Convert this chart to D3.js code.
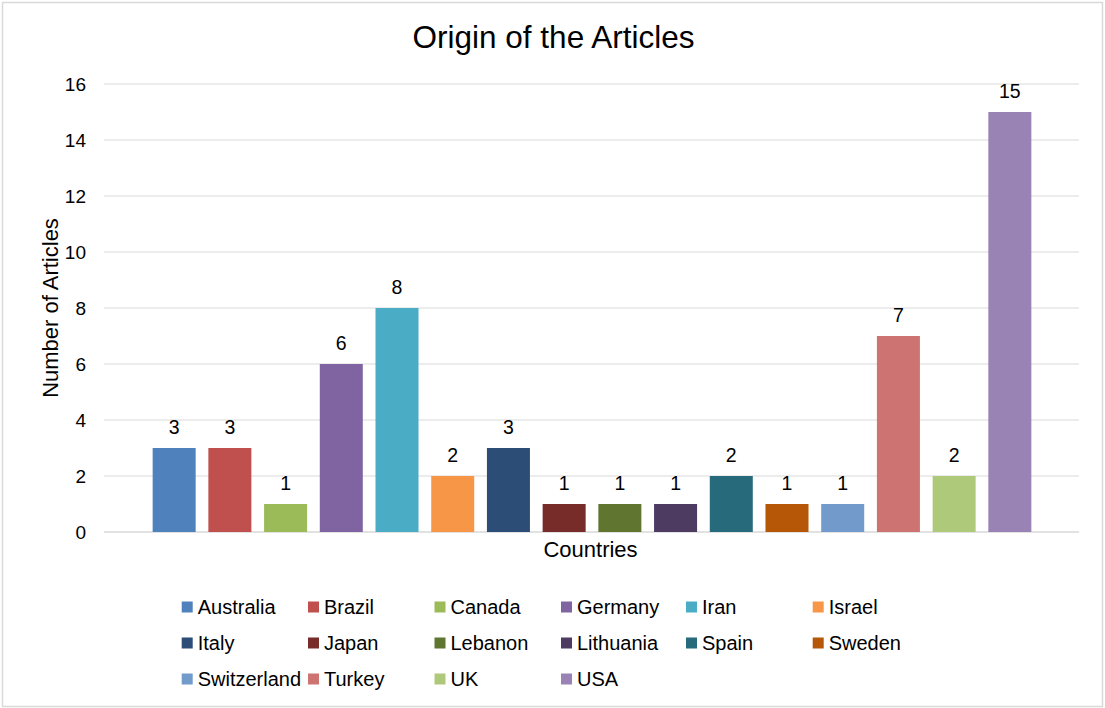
<!DOCTYPE html>
<html>
<head>
<meta charset="utf-8">
<script src="https://d3js.org/d3.v7.min.js"></script>
<style>
  html, body { margin: 0; padding: 0; background: #fff; }
  svg { display: block; font-family: "Liberation Sans", Arial, sans-serif; }
</style>
</head>
<body>
<svg id="chart" width="1105" height="708"></svg>
<script>
const countries = ["Australia","Brazil","Canada","Germany","Iran","Israel","Italy","Japan","Lebanon","Lithuania","Spain","Sweden","Switzerland","Turkey","UK","USA"];
const articleCounts = [3,3,1,6,8,2,3,1,1,1,2,1,1,7,2,15];
const countryColors = ["#4F81BD","#C0504D","#9BBB59","#8064A2","#4BACC6","#F79646","#2C4D75","#772C2A","#5F7530","#4D3B62","#276A7C","#B65708","#729ACA","#CD7371","#AFC97A","#9983B5"];
const yTicks = [0,2,4,6,8,10,12,14,16];
const titleText = "Origin of the Articles";
const xTitle = "Countries";
const yTitle = "Number of Articles";

const svg = d3.select("#chart");

// outer border
svg.append("rect").attr("x", 2.5).attr("y", 2.5).attr("width", 1100).attr("height", 704)
  .attr("fill", "#fff").attr("stroke", "#d9d9d9").attr("stroke-width", 1.5);

const plot = { left: 104, right: 1079, top: 84, bottom: 532 };

const y = d3.scaleLinear().domain([0, 16]).range([plot.bottom, plot.top]);
const x = d3.scaleBand().domain(countries).range([146.3, 1037.7]).paddingInner(0.228).paddingOuter(0.114);

// gridlines
svg.append("g").selectAll("line").data(yTicks).join("line")
  .attr("x1", plot.left).attr("x2", plot.right)
  .attr("y1", d => y(d)).attr("y2", d => y(d))
  .attr("stroke", "#d9d9d9").attr("stroke-width", d => d === 0 ? 1.5 : 1.2);

// y axis labels
const yAxis = d3.axisLeft(y).tickValues(yTicks).tickSize(0).tickPadding(0);
const gy = svg.append("g").attr("transform", `translate(86,0)`).call(yAxis);
gy.select(".domain").remove();
gy.selectAll("text").attr("font-size", 19).attr("fill", "#000").attr("font-family", "Liberation Sans, Arial, sans-serif");

// bars
const data = countries.map((c, i) => ({ c, v: articleCounts[i], col: countryColors[i] }));
svg.append("g").selectAll("rect").data(data).join("rect")
  .attr("x", d => x(d.c)).attr("width", x.bandwidth())
  .attr("y", d => y(d.v)).attr("height", d => y(0) - y(d.v))
  .attr("fill", d => d.col);

// data labels
svg.append("g").selectAll("text").data(data).join("text")
  .attr("x", d => x(d.c) + x.bandwidth() / 2)
  .attr("y", d => y(d.v) - 14)
  .attr("text-anchor", "middle").attr("font-size", 19.5).attr("fill", "#000")
  .text(d => d.v);

// title
svg.append("text").attr("x", 553.5).attr("y", 48).attr("text-anchor", "middle")
  .attr("font-size", 31.5).attr("fill", "#000").text(titleText);

// x title
svg.append("text").attr("x", 590.5).attr("y", 556.5).attr("text-anchor", "middle")
  .attr("font-size", 22).attr("fill", "#000").text(xTitle);

// y title
svg.append("text").attr("transform", `translate(58,308) rotate(-90)`).attr("text-anchor", "middle")
  .attr("font-size", 22).attr("fill", "#000").text(yTitle);

// legend
const legX = [181.7, 308, 434.5, 561, 686, 812.7];
const legY = [607, 643, 679];
const leg = svg.append("g").selectAll("g").data(data).join("g")
  .attr("transform", (d, i) => `translate(${legX[i % 6]},${legY[Math.floor(i / 6)]})`);
leg.append("rect").attr("x", 0).attr("y", -5.5).attr("width", 11).attr("height", 11).attr("fill", d => d.col);
leg.append("text").attr("x", 16).attr("y", 0).attr("dy", "0.35em")
  .attr("font-size", 20).attr("fill", "#000").text(d => d.c);
</script>
</body>
</html>
